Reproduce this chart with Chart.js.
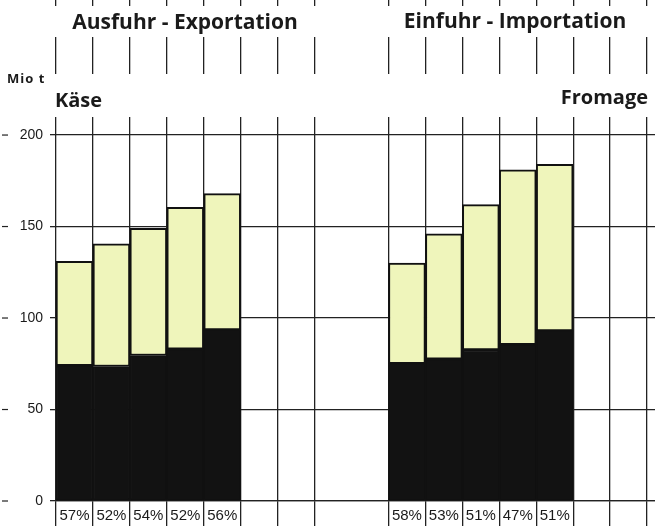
<!DOCTYPE html>
<html>
<head>
<title>Käse - Fromage</title>
<script src="https://cdn.jsdelivr.net/npm/chart.js@4.4.1/dist/chart.umd.min.js"></script>
<style>
  body { margin: 0; background: #fff; overflow: hidden; }
  #wrap { width: 655px; height: 530px; overflow: hidden; }
</style>
</head>
<body>
<div id="wrap"><canvas id="canvas" width="684" height="530"></canvas></div>
<script>

// values in Mio t
var exportTotal = [131, 140.5, 149, 160.5, 168];
var exportDark  = [74, 73.5, 79.5, 83, 93.5];
var importTotal = [130, 146, 162, 181, 184];
var importDark  = [75, 77.5, 82.5, 85.5, 93];

// share labels under the bars
var exportShare = ['57%', '52%', '54%', '52%', '56%'];
var importShare = ['58%', '53%', '51%', '47%', '51%'];

var yTicks = [0, 50, 100, 150, 200];

// layout of columns: 5 export bars, 2 empty, gap, 5 import bars, empty columns
var slotCount = 17;
var exportStart = 0;
var importStart = 9;
var gapLine = 8;   // grid line not drawn inside the gap

var labels = [];
var dark = [];
var light = [];
for (var i = 0; i < slotCount; i++) {
  labels.push('');
  dark.push(null);
  light.push(null);
}
for (var j = 0; j < exportTotal.length; j++) {
  labels[exportStart + j] = exportShare[j];
  dark[exportStart + j] = exportDark[j];
  light[exportStart + j] = exportTotal[j] - exportDark[j];
}
for (var j = 0; j < importTotal.length; j++) {
  labels[importStart + j] = importShare[j];
  dark[importStart + j] = importDark[j];
  light[importStart + j] = importTotal[j] - importDark[j];
}

var lineColor = '#222';

// title bands + texts drawn over the grid
var headerPlugin = {
  id: 'header',
  afterDraw: function(chart) {
    var ctx = chart.ctx;
    var W = chart.width;
    ctx.save();
    ctx.fillStyle = '#fff';
    ctx.fillRect(0, 6, W, 31);
    ctx.fillRect(0, 74, W, 43);

    ctx.fillStyle = '#1a1a1a';
    ctx.textBaseline = 'alphabetic';
    ctx.font = "bold 21px 'Open Sans', sans-serif";
    ctx.textAlign = 'center';
    ctx.fillText('Ausfuhr - Exportation', 185, 29);
    ctx.fillText('Einfuhr - Importation', 515, 28);

    ctx.font = "bold 20px 'Open Sans', sans-serif";
    ctx.textAlign = 'left';
    ctx.fillText('Käse', 55, 107);
    ctx.textAlign = 'right';
    ctx.fillText('Fromage', 648, 104);

    ctx.font = "bold 13px 'Open Sans', sans-serif";
    ctx.letterSpacing = '1px';
    ctx.textAlign = 'left';
    ctx.fillText('Mio t', 7, 83);
    ctx.letterSpacing = '0px';

    // little dashes left of the y labels
    var y = chart.scales.y;
    ctx.strokeStyle = lineColor;
    ctx.lineWidth = 1.2;
    yTicks.forEach(function(v) {
      var py = y.getPixelForValue(v);
      ctx.beginPath();
      ctx.moveTo(2, py);
      ctx.lineTo(8, py);
      ctx.stroke();
    });
    ctx.restore();
  }
};

var ctx = document.getElementById('canvas').getContext('2d');
window.myBar = new Chart(ctx, {
  type: 'bar',
  data: {
    labels: labels,
    datasets: [{
      label: 'dark',
      data: dark,
      backgroundColor: '#121212',
      borderColor: '#111',
      borderWidth: 1.5,
      borderSkipped: false
    }, {
      label: 'light',
      data: light,
      backgroundColor: '#eff5bb',
      borderColor: '#111',
      borderWidth: 2,
      borderSkipped: false
    }]
  },
  options: {
    responsive: false,
    animation: false,
    devicePixelRatio: 1,
    layout: { padding: 0 },
    barPercentage: 1,
    categoryPercentage: 1,
    plugins: {
      legend: { display: false },
      tooltip: { enabled: false }
    },
    scales: {
      x: {
        stacked: true,
        offset: true,
        afterFit: function(scale) {
          scale.height = 29;
          scale.paddingLeft = 0;
          scale.paddingRight = 0;
        },
        grid: {
          offset: true,
          tickLength: 25,
          lineWidth: 1.3,
          color: function(c) {
            return c.index === gapLine ? 'rgba(0,0,0,0)' : lineColor;
          }
        },
        border: { display: true, color: lineColor, width: 1.3 },
        ticks: {
          autoSkip: false,
          maxRotation: 0,
          padding: -19,
          color: '#1a1a1a',
          font: { family: "'Liberation Sans', Arial, sans-serif", size: 15 }
        }
      },
      y: {
        stacked: true,
        min: 0,
        max: 273.8,
        afterFit: function(scale) {
          scale.width = 56;
          scale.paddingTop = 0;
          scale.paddingBottom = 0;
        },
        afterBuildTicks: function(scale) {
          scale.ticks = yTicks.map(function(v) { return { value: v }; });
        },
        grid: {
          tickLength: 6,
          lineWidth: 1.3,
          color: lineColor
        },
        border: { display: false },
        ticks: {
          padding: 7,
          color: '#1a1a1a',
          font: { family: "'Liberation Sans', Arial, sans-serif", size: 14 }
        }
      }
    }
  },
  plugins: [headerPlugin]
});

</script>
</body>
</html>
